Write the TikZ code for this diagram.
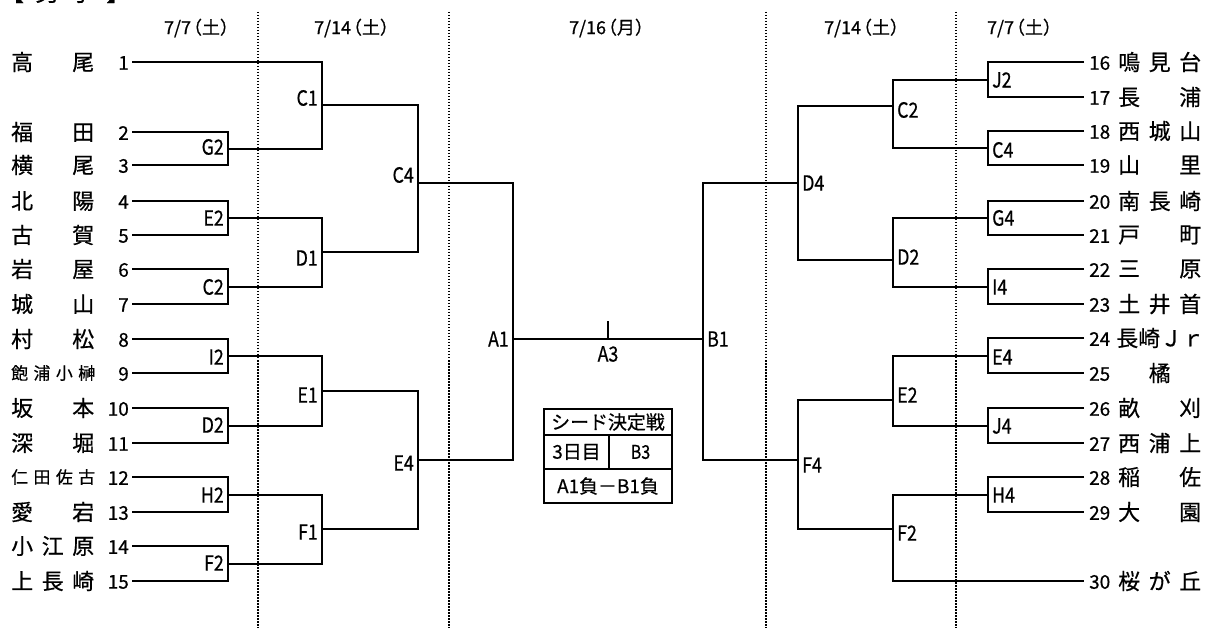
\documentclass[tikz,border=0pt]{standalone}
\usepackage{fontspec}
\usepackage{graphicx}
\setmainfont{Noto Sans CJK JP}[FakeBold=0.6]
\newcommand\nw[1]{\scalebox{0.85}[1]{#1}}
\newcommand\hd[2]{#1\kern-7pt（#2）}
\newcommand\twoc[2]{\makebox[83bp]{#1\hfill#2}}
\newcommand\threec[3]{\makebox[83bp]{#1\hfill#2\hfill#3}}
\newcommand\fourc[4]{\makebox[84bp]{#1\hfill#2\hfill#3\hfill#4}}
\begin{document}
\begin{tikzpicture}[x=1bp,y=-1bp,
 br/.style={line width=2bp},
 dotline/.style={line width=1.6bp, dash pattern=on 1.5bp off 1.5bp},
 num/.style={inner sep=0pt, font=\fontsize{19}{19}\selectfont},
 nm/.style={inner sep=0pt, font=\fontsize{22}{22}\selectfont},
 nms/.style={inner sep=0pt, font=\fontsize{17}{17}\selectfont},
 lab/.style={inner sep=0pt, font=\fontsize{21}{21}\selectfont},
 labl/.style={lab, anchor=east},
 labr/.style={lab, anchor=west},
 hdr/.style={inner sep=0pt, font=\fontsize{18}{18}\selectfont},
 cell/.style={draw, line width=2bp, inner sep=0pt, anchor=north west, font=\fontsize{19}{19}\selectfont},
]
\useasboundingbox (0,0) rectangle (1207,628);

% title (mostly cut off at the top, as in the source)
\node[anchor=base west, inner sep=0pt, font=\fontsize{24}{24}\selectfont] (ttl) at (0,1)
  {\makebox[130bp]{【\hfill 男\hfill 子\hfill 】}};

% day headers
\node[hdr] (h1) at (201,28) {\hd{7/7}{土}};
\node[hdr] (h2) at (356,28) {\hd{7/14}{土}};
\node[hdr] (h3) at (611,28) {\hd{7/16}{月}};
\node[hdr] (h4) at (866,28) {\hd{7/14}{土}};
\node[hdr] (h5) at (1024,28) {\hd{7/7}{土}};

% dotted separators
\foreach \xx in {258,449,766,956} \draw[dotline] (\xx,12) -- (\xx,628);

% numbers
\foreach \i/\y in {1/62,2/132,3/165,4/201,5/235,6/269,7/304,8/339,9/373,10/408,11/443,12/477,13/512,14/546,15/581}{
  \node[num,anchor=east] (n\i) at (129,\y+1) {\i};
  \coordinate (s\i) at (132,\y);
}
\foreach \i/\y in {16/62,17/97,18/131,19/165,20/201,21/235,22/269,23/304,24/338,25/373,26/408,27/443,28/477,29/512,30/581}{
  \node[num,anchor=west] (n\i) at (1089,\y+1) {\i};
  \coordinate (s\i) at (1084,\y);
}

% left names
\node[nm,anchor=west] (t1) at (11,62) {\twoc{高}{尾}};
\node[nm,anchor=west] (t2) at (11,132) {\twoc{福}{田}};
\node[nm,anchor=west] (t3) at (11,165) {\twoc{横}{尾}};
\node[nm,anchor=west] (t4) at (11,201) {\twoc{北}{陽}};
\node[nm,anchor=west] (t5) at (11,235) {\twoc{古}{賀}};
\node[nm,anchor=west] (t6) at (11,269) {\twoc{岩}{屋}};
\node[nm,anchor=west] (t7) at (11,304) {\twoc{城}{山}};
\node[nm,anchor=west] (t8) at (11,339) {\twoc{村}{松}};
\node[nms,anchor=west] (t9) at (11,373) {\fourc{飽}{浦}{小}{榊}};
\node[nm,anchor=west] (t10) at (11,408) {\twoc{坂}{本}};
\node[nm,anchor=west] (t11) at (11,443) {\twoc{深}{堀}};
\node[nms,anchor=west] (t12) at (11,477) {\fourc{仁}{田}{佐}{古}};
\node[nm,anchor=west] (t13) at (11,512) {\twoc{愛}{宕}};
\node[nm,anchor=west] (t14) at (11,546) {\threec{小}{江}{原}};
\node[nm,anchor=west] (t15) at (11,581) {\threec{上}{長}{崎}};

% right names
\node[nm,anchor=west] (t16) at (1118,62) {\threec{鳴}{見}{台}};
\node[nm,anchor=west] (t17) at (1118,97) {\twoc{長}{浦}};
\node[nm,anchor=west] (t18) at (1118,131) {\threec{西}{城}{山}};
\node[nm,anchor=west] (t19) at (1118,165) {\twoc{山}{里}};
\node[nm,anchor=west] (t20) at (1118,201) {\threec{南}{長}{崎}};
\node[nm,anchor=west] (t21) at (1118,235) {\twoc{戸}{町}};
\node[nm,anchor=west] (t22) at (1118,269) {\twoc{三}{原}};
\node[nm,anchor=west] (t23) at (1118,304) {\threec{土}{井}{首}};
\node[nm,anchor=west] (t24) at (1118,338) {\fourc{長}{崎}{Ｊ}{ｒ}};
\node[nm,anchor=west] (t25) at (1118,373) {\makebox[83bp]{\hfill 橘\hfill}};
\node[nm,anchor=west] (t26) at (1118,408) {\twoc{畝}{刈}};
\node[nm,anchor=west] (t27) at (1118,443) {\threec{西}{浦}{上}};
\node[nm,anchor=west] (t28) at (1118,477) {\twoc{稲}{佐}};
\node[nm,anchor=west] (t29) at (1118,512) {\twoc{大}{園}};
\node[nm,anchor=west] (t30) at (1118,581) {\threec{桜}{が}{丘}};

% left bracket junctions
\coordinate (LG2) at (228,149);
\coordinate (LE2) at (228,218);
\coordinate (LC2) at (228,287);
\coordinate (LI2) at (228,356);
\coordinate (LD2) at (228,426);
\coordinate (LH2) at (228,495);
\coordinate (LF2) at (228,564);
\coordinate (LC1) at (322,105);
\coordinate (LD1) at (322,252);
\coordinate (LE1) at (322,391);
\coordinate (LF1) at (322,529);
\coordinate (LC4) at (418,183);
\coordinate (LE4) at (418,460);
\coordinate (A1) at (513,339);
% right bracket junctions
\coordinate (RJ2) at (988,80);
\coordinate (RC4) at (988,148);
\coordinate (RG4) at (988,218);
\coordinate (RI4) at (988,287);
\coordinate (RE4) at (988,356);
\coordinate (RJ4) at (988,426);
\coordinate (RH4) at (988,495);
\coordinate (RC2) at (893,106);
\coordinate (RD2) at (893,260);
\coordinate (RE2) at (893,400);
\coordinate (RF2) at (893,529);
\coordinate (RD4) at (798,183);
\coordinate (RF4) at (798,460);
\coordinate (B1) at (703,339);
\coordinate (A3t) at (608,321);

% left brackets
\draw[br] (s2) -| (LG2) |- (s3);
\draw[br] (s4) -| (LE2) |- (s5);
\draw[br] (s6) -| (LC2) |- (s7);
\draw[br] (s8) -| (LI2) |- (s9);
\draw[br] (s10) -| (LD2) |- (s11);
\draw[br] (s12) -| (LH2) |- (s13);
\draw[br] (s14) -| (LF2) |- (s15);
\draw[br] (s1) -| (LC1) |- (LG2);
\draw[br] (LE2) -| (LD1) |- (LC2);
\draw[br] (LI2) -| (LE1) |- (LD2);
\draw[br] (LH2) -| (LF1) |- (LF2);
\draw[br] (LC1) -| (LC4) |- (LD1);
\draw[br] (LE1) -| (LE4) |- (LF1);
\draw[br] (LC4) -| (A1) |- (LE4);
% right brackets
\draw[br] (s16) -| (RJ2) |- (s17);
\draw[br] (s18) -| (RC4) |- (s19);
\draw[br] (s20) -| (RG4) |- (s21);
\draw[br] (s22) -| (RI4) |- (s23);
\draw[br] (s24) -| (RE4) |- (s25);
\draw[br] (s26) -| (RJ4) |- (s27);
\draw[br] (s28) -| (RH4) |- (s29);
\draw[br] (RJ2) -| (RC2) |- (RC4);
\draw[br] (RG4) -| (RD2) |- (RI4);
\draw[br] (RE4) -| (RE2) |- (RJ4);
\draw[br] (RH4) -| (RF2) |- (s30);
\draw[br] (RC2) -| (RD4) |- (RD2);
\draw[br] (RE2) -| (RF4) |- (RF2);
\draw[br] (RD4) -| (B1) |- (RF4);
% final
\draw[br] (A1) -- (B1);
\draw[br] (A3t) -- (A3t |- A1);

% left labels
\node[labl] (lG2) at (224,147) {\nw{G2}};
\node[labl] (lE2) at (224,218) {\nw{E2}};
\node[labl] (lC2) at (224,287) {\nw{C2}};
\node[labl] (lI2) at (224,357) {\nw{I2}};
\node[labl] (lD2) at (224,425) {\nw{D2}};
\node[labl] (lH2) at (224,495) {\nw{H2}};
\node[labl] (lF2) at (224,563) {\nw{F2}};
\node[labl] (lC1) at (318,98) {\nw{C1}};
\node[labl] (lD1) at (318,258) {\nw{D1}};
\node[labl] (lE1) at (318,395) {\nw{E1}};
\node[labl] (lF1) at (318,532) {\nw{F1}};
\node[labl] (lC4) at (414,175) {\nw{C4}};
\node[labl] (lE4) at (414,463) {\nw{E4}};
\node[labl] (lA1) at (509,339) {\nw{A1}};
% right labels
\node[labr] (rJ2) at (992,80) {\nw{J2}};
\node[labr] (rC4) at (992,150) {\nw{C4}};
\node[labr] (rG4) at (992,218) {\nw{G4}};
\node[labr] (rI4) at (992,287) {\nw{I4}};
\node[labr] (rE4) at (992,357) {\nw{E4}};
\node[labr] (rJ4) at (992,426) {\nw{J4}};
\node[labr] (rH4) at (992,495) {\nw{H4}};
\node[labr] (rC2) at (897,110) {\nw{C2}};
\node[labr] (rD2) at (897,257) {\nw{D2}};
\node[labr] (rE2) at (897,395) {\nw{E2}};
\node[labr] (rF2) at (897,533) {\nw{F2}};
\node[labr] (rD4) at (802,183) {\nw{D4}};
\node[labr] (rF4) at (802,465) {\nw{F4}};
\node[labr] (rB1) at (707,339) {\nw{B1}};
\node[lab] (lA3) at (608,354) {\nw{A3}};

% seed box
\node[cell, minimum width=128bp, minimum height=26bp] (bx1) at (543,408) {シード決定戦};
\node[cell, minimum width=65bp, minimum height=34bp] (bx2) at (543,434) {3日目};
\node[cell, minimum width=63bp, minimum height=34bp] (bx3) at (608,434) {\nw{B3}};
\node[cell, minimum width=128bp, minimum height=34bp] (bx4) at (543,468) {A1負－B1負};
\end{tikzpicture}
\end{document}
